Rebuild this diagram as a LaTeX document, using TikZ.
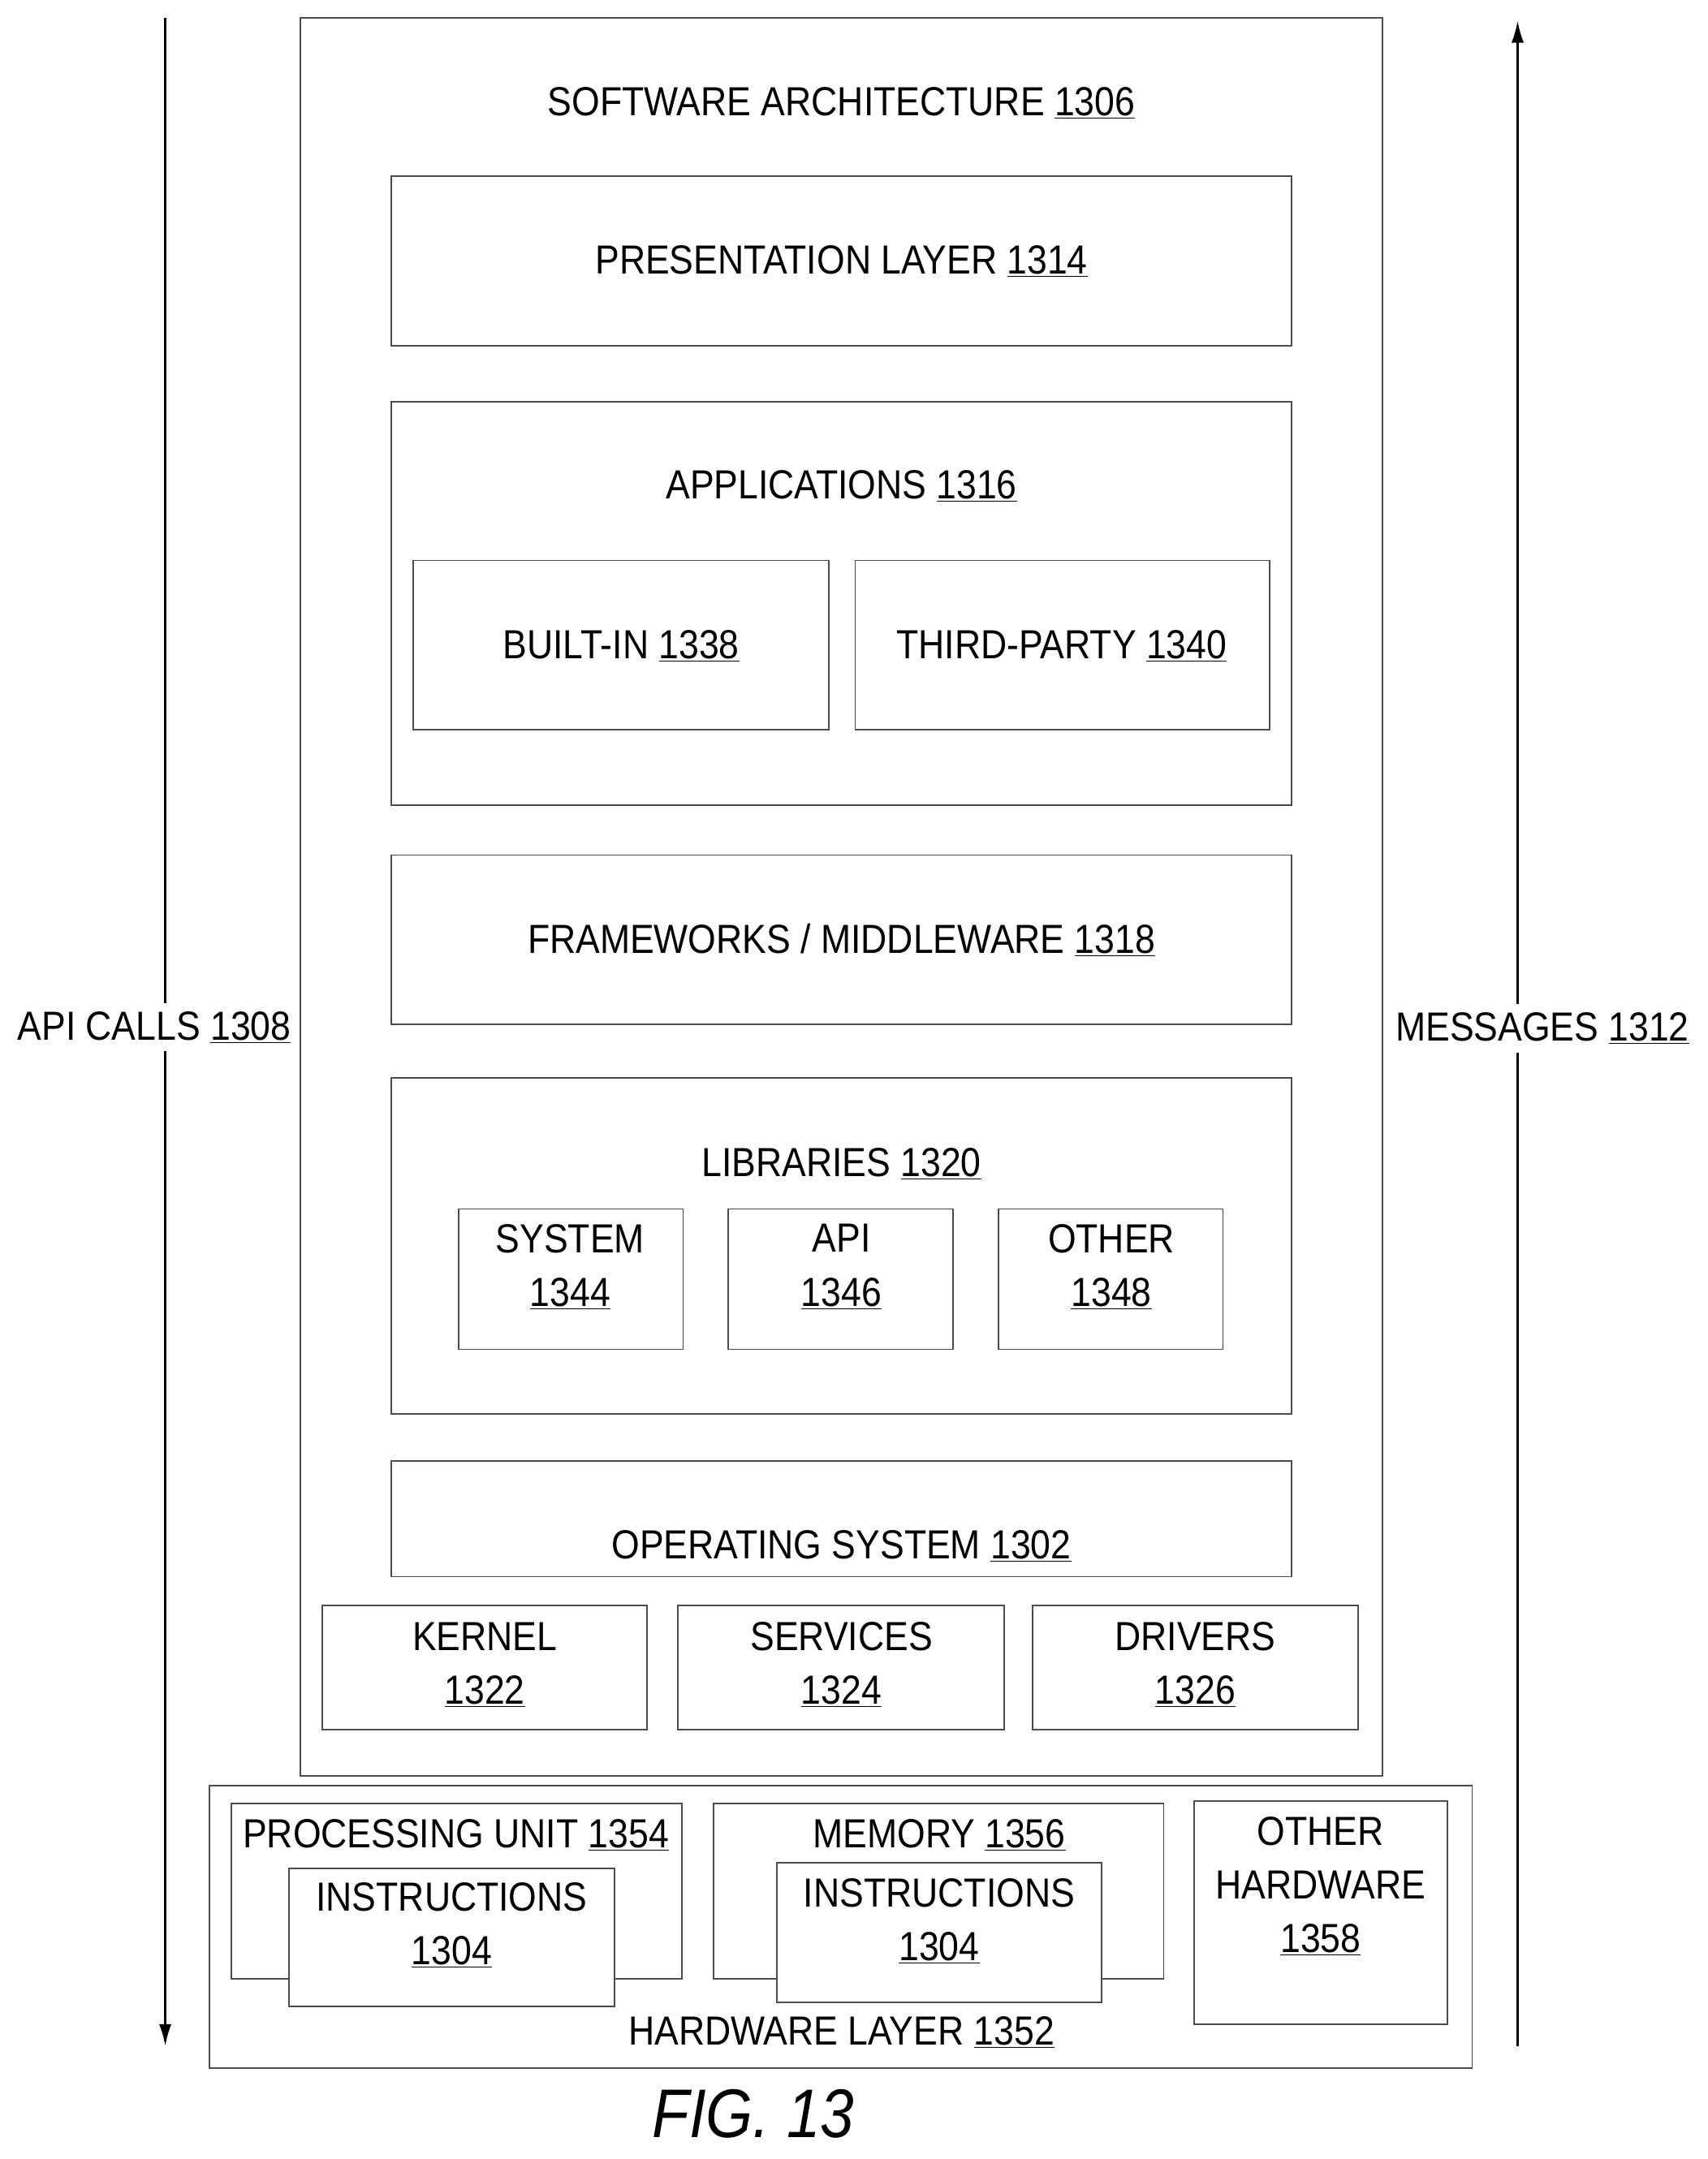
\documentclass[tikz,border=0pt]{standalone}
\usepackage{fontspec}
\setmainfont{Liberation Sans}
\begin{document}
\begin{tikzpicture}[x=1pt,y=-1pt,
  bx/.style={draw=black!70,line width=1.1pt,fill=white},
  tx/.style={font=\fontsize{29.5}{34}\selectfont,inner sep=0pt,align=center,xscale=0.89},
  ar/.style={line width=1.6pt,-{Latex[length=16pt,width=9pt]}}]
\usetikzlibrary{arrows.meta}
\useasboundingbox (0,0) rectangle (1240,1568);
\path[bx] (218,13) rectangle (1004,1290);
\node[tx] (sa) at (611,75) {SOFTWARE ARCHITECTURE \underline{1306}};
\path[bx] (284,128) rectangle (938,251);
\node[tx] (pl) at (611,190) {PRESENTATION LAYER \underline{1314}};
\path[bx] (284,292) rectangle (938,585);
\node[tx] (ap) at (611,353) {APPLICATIONS \underline{1316}};
\path[bx] (300,407) rectangle (602,530);
\node[tx] (bi) at (451,469) {BUILT-IN \underline{1338}};
\path[bx] (621,407) rectangle (922,530);
\node[tx] (tp) at (771,469) {THIRD-PARTY \underline{1340}};
\path[bx] (284,621) rectangle (938,744);
\node[tx] (fw) at (611,683) {FRAMEWORKS / MIDDLEWARE \underline{1318}};
\path[bx] (284,783) rectangle (938,1027);
\node[tx] (lb) at (611,845) {LIBRARIES \underline{1320}};
\path[bx] (333,878) rectangle (496,980);
\node[tx] (sy) at (414,920) {SYSTEM\\[5pt]\underline{1344}};
\path[bx] (529,878) rectangle (692,980);
\node[tx] (api) at (611,920) {API\\[5pt]\underline{1346}};
\path[bx] (725,878) rectangle (888,980);
\node[tx] (ot) at (807,920) {OTHER\\[5pt]\underline{1348}};
\path[bx] (284,1061) rectangle (938,1145);
\node[tx] (os) at (611,1123) {OPERATING SYSTEM \underline{1302}};
\path[bx] (234,1166) rectangle (470,1256);
\node[tx] (kn) at (352,1209) {KERNEL\\[5pt]\underline{1322}};
\path[bx] (492,1166) rectangle (729,1256);
\node[tx] (sv) at (611,1209) {SERVICES\\[5pt]\underline{1324}};
\path[bx] (750,1166) rectangle (986,1256);
\node[tx] (dr) at (868,1209) {DRIVERS\\[5pt]\underline{1326}};
\path[bx] (152,1297) rectangle (1069,1502);
\node[tx] (hw) at (611,1476) {HARDWARE LAYER \underline{1352}};
\path[bx] (168,1310) rectangle (495,1437);
\node[tx] (pu) at (331,1333) {PROCESSING UNIT \underline{1354}};
\path[bx] (210,1357) rectangle (446,1457);
\node[tx] (i1) at (328,1398) {INSTRUCTIONS\\[5pt]\underline{1304}};
\path[bx] (518,1310) rectangle (845,1437);
\node[tx] (mm) at (682,1333) {MEMORY \underline{1356}};
\path[bx] (564,1353) rectangle (800,1454);
\node[tx] (i2) at (682,1395) {INSTRUCTIONS\\[5pt]\underline{1304}};
\path[bx] (867,1308) rectangle (1051,1470);
\node[tx] (oh) at (959,1370) {OTHER\\[5pt]HARDWARE\\[5pt]\underline{1358}};
\node[tx,fill=white,inner ysep=6pt] (apic) at (112,746) {API CALLS \underline{1308}};
\node[tx,fill=white,inner ysep=6pt] (msg) at (1120,747) {MESSAGES \underline{1312}};
\coordinate (a1) at (120,13); \coordinate (a2) at (120,1486);
\coordinate (m1) at (1102,1486); \coordinate (m2) at (1102,15);
\draw[line width=1.6pt] (a1) -- (apic.north -| a1);
\draw[ar] (apic.south -| a2) -- (a2);
\draw[line width=1.6pt] (m1) -- (msg.south -| m1);
\draw[ar] (msg.north -| m2) -- (m2);
\node[font=\fontsize{50}{54}\selectfont\itshape,inner sep=0pt,xscale=0.88] (fig) at (547,1535) {FIG. 13};
\end{tikzpicture}
\end{document}
